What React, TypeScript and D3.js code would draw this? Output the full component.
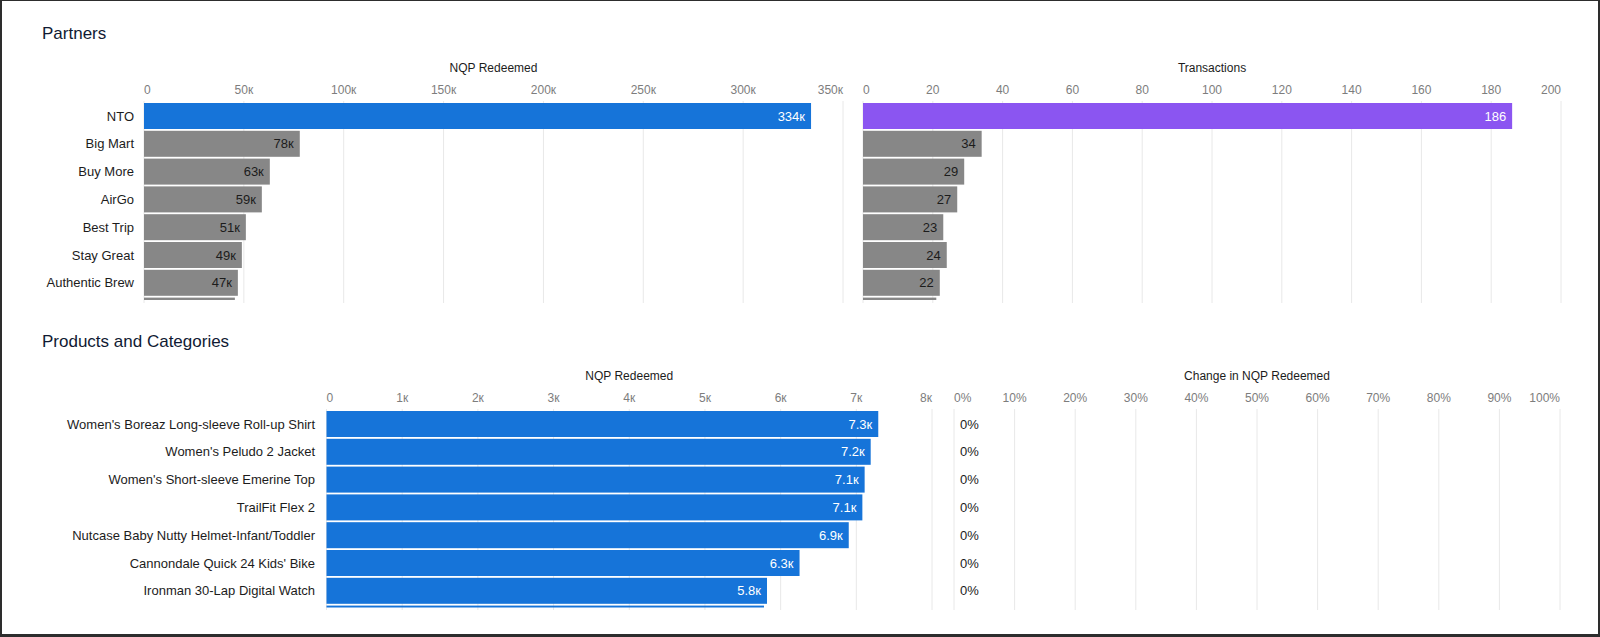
import React from "react";
import * as d3 from "d3";

// ---------- data ----------
const partnerNames = ["NTO", "Big Mart", "Buy More", "AirGo", "Best Trip", "Stay Great", "Authentic Brew"];
// 8th value belongs to a row that is scrolled out of view (only its top edge shows)
const partnerNqp = [334000, 78000, 63000, 59000, 51000, 49000, 47000, 45500];
const partnerTx = [186, 34, 29, 27, 23, 24, 22, 21];
const partnerNqpTicks = [0, 50000, 100000, 150000, 200000, 250000, 300000, 350000];
const partnerTxTicks = [0, 20, 40, 60, 80, 100, 120, 140, 160, 180, 200];

const productNames = [
  "Women's Boreaz Long-sleeve Roll-up Shirt",
  "Women's Peludo 2 Jacket",
  "Women's Short-sleeve Emerine Top",
  "TrailFit Flex 2",
  "Nutcase Baby Nutty Helmet-Infant/Toddler",
  "Cannondale Quick 24 Kids' Bike",
  "Ironman 30-Lap Digital Watch",
];
const productNqp = [7290, 7190, 7110, 7080, 6900, 6250, 5820, 5780];
const productChange = [0, 0, 0, 0, 0, 0, 0, 0];
const productNqpTicks = [0, 1000, 2000, 3000, 4000, 5000, 6000, 7000, 8000];
const productChangeTicks = [0, 0.1, 0.2, 0.3, 0.4, 0.5, 0.6, 0.7, 0.8, 0.9, 1.0];

// ---------- styles ----------
const FONT = "'Liberation Sans', Arial, Helvetica, sans-serif";
const BLUE = "#1674d9";
const PURPLE = "#8b55f1";
const GRAY = "#878787";
const GRID = "#e8e8e8";
const TEXT = "#1c1c1c";
const TICK = "#7d7d7d";

const fmtKInt = (v: number) => (v === 0 ? "0" : Math.round(v / 1000) + "\u043a");
const fmtK1 = (v: number) => (Math.round(v / 100) / 10).toFixed(1) + "\u043a";
const fmtPct = (v: number) => Math.round(v * 100) + "%";

type PanelProps = {
  id: string;
  values: number[];
  domain: [number, number];
  range: [number, number];
  ticks: number[];
  tickFmt: (v: number) => string;
  valueFmt: (v: number) => string;
  title: string;
  barTop: number;
  step: number;
  barH: number;
  visibleRows: number;
  clipBottom: number;
  gridBottom: number;
  colorFor: (i: number) => string;
  labelColorFor: (i: number) => string;
  labelOutside?: boolean;
};

function Panel(p: PanelProps) {
  const x = d3.scaleLinear().domain(p.domain).range(p.range);
  const n = p.values.length;
  const pad = (p.step - p.barH) / p.step;
  const y = d3
    .scaleBand<number>()
    .domain(d3.range(n))
    .range([p.barTop, p.barTop + n * p.step - (p.step - p.barH)])
    .paddingInner(pad)
    .paddingOuter(0);
  const gridTop = p.barTop - 2;
  const tickY = p.barTop - 13;
  const titleY = p.barTop - 35;
  const [r0, r1] = p.range;
  return (
    <g>
      <defs>
        <clipPath id={p.id}>
          <rect x={r0 - 2} y={gridTop} width={r1 - r0 + 4} height={p.clipBottom - gridTop} />
        </clipPath>
      </defs>
      <text x={(r0 + r1) / 2} y={titleY} textAnchor="middle" dominantBaseline="central" fontSize={12} fill={TEXT}>
        {p.title}
      </text>
      {p.ticks.map((t, i) => (
        <g key={"t" + i}>
          <line x1={x(t)} x2={x(t)} y1={gridTop} y2={p.gridBottom} stroke={GRID} strokeWidth={1} />
          <text
            x={x(t)}
            y={tickY}
            textAnchor={i === 0 ? "start" : i === p.ticks.length - 1 ? "end" : "middle"}
            dominantBaseline="central"
            fontSize={12}
            fill={TICK}
          >
            {p.tickFmt(t)}
          </text>
        </g>
      ))}
      <g clipPath={`url(#${p.id})`}>
        {p.values.map((v, i) => {
          const yy = y(i) as number;
          const w = x(v) - x(0);
          return (
            <g key={"b" + i}>
              <rect x={x(0)} y={yy} width={Math.max(0, w)} height={y.bandwidth()} fill={p.colorFor(i)} />
              {i < p.visibleRows && (
                <text
                  x={p.labelOutside ? x(0) + 6 : x(v) - 6}
                  y={yy + y.bandwidth() / 2}
                  textAnchor={p.labelOutside ? "start" : "end"}
                  dominantBaseline="central"
                  fontSize={13}
                  fill={p.labelColorFor(i)}
                >
                  {p.valueFmt(v)}
                </text>
              )}
            </g>
          );
        })}
      </g>
    </g>
  );
}

function RowLabels({ names, right, barTop, step, barH }: { names: string[]; right: number; barTop: number; step: number; barH: number }) {
  const y = d3
    .scaleBand<number>()
    .domain(d3.range(names.length))
    .range([barTop, barTop + names.length * step - (step - barH)])
    .paddingInner((step - barH) / step)
    .paddingOuter(0);
  return (
    <g>
      {names.map((nm, i) => (
        <text key={i} x={right} y={(y(i) as number) + y.bandwidth() / 2} textAnchor="end" dominantBaseline="central" fontSize={13} fill={TEXT}>
          {nm}
        </text>
      ))}
    </g>
  );
}

export default function App() {
  const W = 1600;
  const H = 637;
  const step = 27.8;
  const barH = 26;
  const pTop = 103;
  const qTop = 411;
  return (
    <div style={{ position: "absolute", left: 0, top: 0, width: W, height: H, background: "#fff" }}>
      <svg width={W} height={H} style={{ display: "block", fontFamily: FONT }}>
        <rect x={0} y={0} width={W} height={H} fill="#fff" />

        <text x={42} y={39} fontSize={17} fill="#101a33">Partners</text>
        <text x={42} y={347} fontSize={17} fill="#101a33">Products and Categories</text>

        <RowLabels names={partnerNames} right={134} barTop={pTop} step={step} barH={barH} />
        <Panel
          id="clipA"
          values={partnerNqp}
          domain={[0, 350000]}
          range={[144, 843]}
          ticks={partnerNqpTicks}
          tickFmt={fmtKInt}
          valueFmt={fmtKInt}
          title="NQP Redeemed"
          barTop={pTop}
          step={step}
          barH={barH}
          visibleRows={7}
          clipBottom={300}
          gridBottom={303}
          colorFor={(i) => (i === 0 ? BLUE : GRAY)}
          labelColorFor={(i) => (i === 0 ? "#fff" : TEXT)}
        />
        <Panel
          id="clipB"
          values={partnerTx}
          domain={[0, 200]}
          range={[863, 1561]}
          ticks={partnerTxTicks}
          tickFmt={(v) => String(v)}
          valueFmt={(v) => String(v)}
          title="Transactions"
          barTop={pTop}
          step={step}
          barH={barH}
          visibleRows={7}
          clipBottom={300}
          gridBottom={303}
          colorFor={(i) => (i === 0 ? PURPLE : GRAY)}
          labelColorFor={(i) => (i === 0 ? "#fff" : TEXT)}
        />

        <RowLabels names={productNames} right={315} barTop={qTop} step={step} barH={barH} />
        <Panel
          id="clipC"
          values={productNqp}
          domain={[0, 8000]}
          range={[326.5, 932]}
          ticks={productNqpTicks}
          tickFmt={fmtKInt}
          valueFmt={fmtK1}
          title="NQP Redeemed"
          barTop={qTop}
          step={step}
          barH={barH}
          visibleRows={7}
          clipBottom={607.5}
          gridBottom={610}
          colorFor={() => BLUE}
          labelColorFor={() => "#fff"}
        />
        <Panel
          id="clipD"
          values={productChange}
          domain={[0, 1]}
          range={[954, 1560]}
          ticks={productChangeTicks}
          tickFmt={fmtPct}
          valueFmt={fmtPct}
          title="Change in NQP Redeemed"
          barTop={qTop}
          step={step}
          barH={barH}
          visibleRows={7}
          clipBottom={607.5}
          gridBottom={610}
          colorFor={() => BLUE}
          labelColorFor={() => TEXT}
          labelOutside
        />

        {/* frame */}
        <line x1={0} x2={W} y1={0.5} y2={0.5} stroke="#2d2d2d" strokeWidth={1} />
        <line x1={1} x2={1} y1={0} y2={H} stroke="#2d2d2d" strokeWidth={2} />
        <line x1={W - 1} x2={W - 1} y1={0} y2={H} stroke="#2d2d2d" strokeWidth={2} />
        <line x1={0} x2={W} y1={H - 1.5} y2={H - 1.5} stroke="#2d2d2d" strokeWidth={3} />
      </svg>
    </div>
  );
}
